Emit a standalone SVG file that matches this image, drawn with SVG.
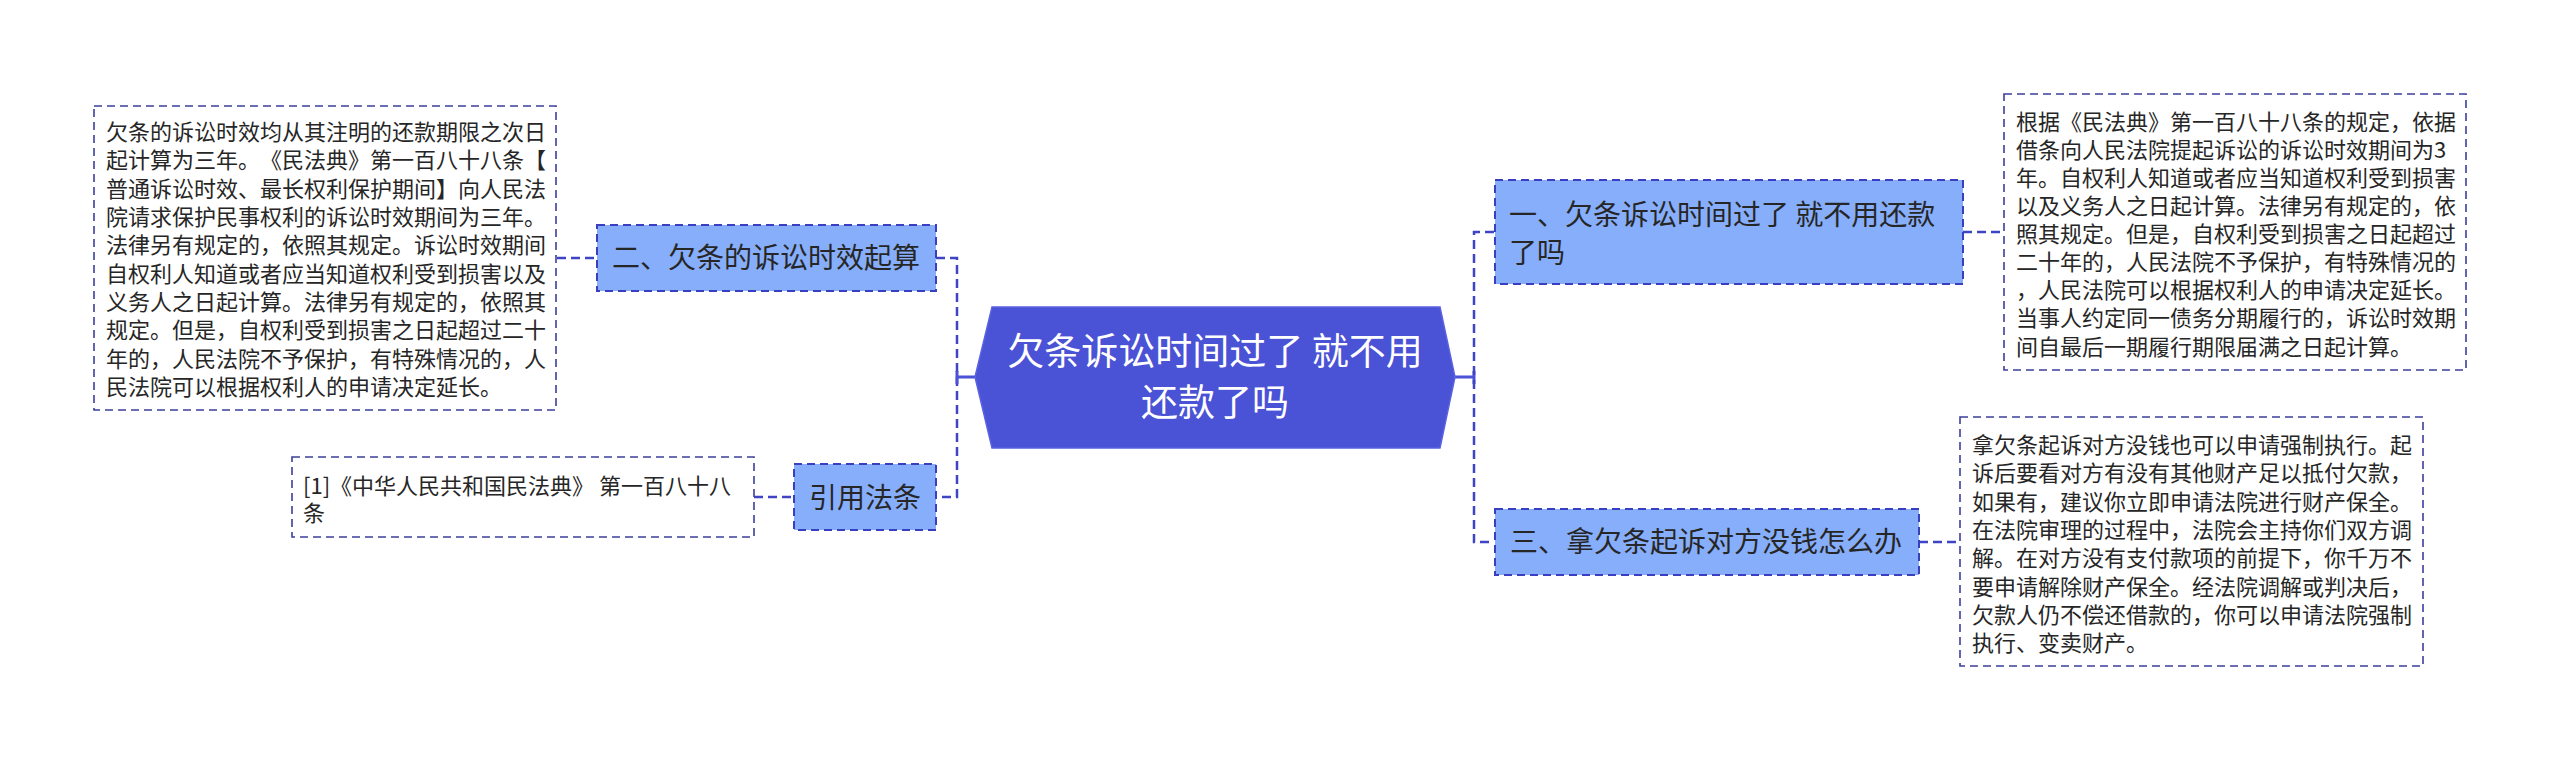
<svg xmlns="http://www.w3.org/2000/svg" width="2560" height="760" viewBox="0 0 2560 760">
<style>
.t{font-family:"Noto Sans CJK SC","Microsoft YaHei",sans-serif;fill:#262626;text-spacing-trim:space-all}
.s{font-size:22px}
.n{font-size:28px}
.node{fill:#87aefa;stroke:#3a3fc0;stroke-width:2;stroke-dasharray:8 5}
.box{fill:#ffffff;stroke:#3c3f9c;stroke-width:1.6;stroke-dasharray:8 5}
.dash{fill:none;stroke:#3e44c4;stroke-width:2.5;stroke-dasharray:9 5}
.solid{fill:none;stroke:#4a52d6;stroke-width:3}
</style>
<rect width="2560" height="760" fill="#ffffff"/>
<g id="connectors">
<path class="dash" d="M557,258 H597"/>
<path class="dash" d="M936,258 H957 V497 H937"/>
<path class="dash" d="M754,497 H794"/>
<path class="solid" d="M975,377 H957 M957,371 V384"/>
<path class="solid" d="M1455,377 H1474 M1474,371 V384"/>
<path class="dash" d="M1494,232 H1474 V542 H1494"/>
<path class="dash" d="M1963,232 H2004"/>
<path class="dash" d="M1919,542 H1960"/>
</g>
<g id="center">
<polygon points="975,377 992,307 1440,307 1455,377 1440,448 992,448" fill="#4a52d6" stroke="#5a62e0" stroke-width="1.5"/>
<text class="t" x="1215" y="365" font-size="37" text-anchor="middle" style="fill:#ffffff">欠条诉讼时间过了 就不用</text>
<text class="t" x="1215" y="416" font-size="37" text-anchor="middle" style="fill:#ffffff">还款了吗</text>
</g>
<g id="node-left-text">
<rect class="box" x="94" y="106" width="462" height="304"/>
<text class="t s" x="106" y="140">欠条的诉讼时效均从其注明的还款期限之次日</text>
<text class="t s" x="106" y="168.3">起计算为三年。《民法典》第一百八十八条【</text>
<text class="t s" x="106" y="196.7">普通诉讼时效、最长权利保护期间】向人民法</text>
<text class="t s" x="106" y="225">院请求保护民事权利的诉讼时效期间为三年。</text>
<text class="t s" x="106" y="253.3">法律另有规定的，依照其规定。诉讼时效期间</text>
<text class="t s" x="106" y="281.7">自权利人知道或者应当知道权利受到损害以及</text>
<text class="t s" x="106" y="310">义务人之日起计算。法律另有规定的，依照其</text>
<text class="t s" x="106" y="338.3">规定。但是，自权利受到损害之日起超过二十</text>
<text class="t s" x="106" y="366.7">年的，人民法院不予保护，有特殊情况的，人</text>
<text class="t s" x="106" y="395">民法院可以根据权利人的申请决定延长。</text>
</g>
<g id="node-two">
<rect class="node" x="597" y="225" width="339" height="66"/>
<text class="t n" x="612" y="268">二、欠条的诉讼时效起算</text>
</g>
<g id="node-citation-text">
<rect class="box" x="292" y="457" width="462" height="80"/>
<text class="t s" x="303" y="494">[1]《中华人民共和国民法典》 第一百八十八</text>
<text class="t s" x="303" y="521">条</text>
</g>
<g id="node-citation">
<rect class="node" x="794" y="464" width="142" height="66"/>
<text class="t n" x="865" y="508" text-anchor="middle">引用法条</text>
</g>
<g id="node-one">
<rect class="node" x="1495" y="180" width="468" height="104"/>
<text class="t n" x="1509" y="225">一、欠条诉讼时间过了 就不用还款</text>
<text class="t n" x="1509" y="263.3">了吗</text>
</g>
<g id="node-one-text">
<rect class="box" x="2004" y="94" width="462" height="276"/>
<text class="t s" x="2016" y="129.7">根据《民法典》第一百八十八条的规定，依据</text>
<text class="t s" x="2016" y="157.8">借条向人民法院提起诉讼的诉讼时效期间为3</text>
<text class="t s" x="2016" y="185.9">年。自权利人知道或者应当知道权利受到损害</text>
<text class="t s" x="2016" y="214">以及义务人之日起计算。法律另有规定的，依</text>
<text class="t s" x="2016" y="242.1">照其规定。但是，自权利受到损害之日起超过</text>
<text class="t s" x="2016" y="270.2">二十年的，人民法院不予保护，有特殊情况的</text>
<text class="t s" x="2016" y="298.3">，人民法院可以根据权利人的申请决定延长。</text>
<text class="t s" x="2016" y="326.4">当事人约定同一债务分期履行的，诉讼时效期</text>
<text class="t s" x="2016" y="354.5">间自最后一期履行期限届满之日起计算。</text>
</g>
<g id="node-three">
<rect class="node" x="1495" y="509" width="424" height="66"/>
<text class="t n" x="1510" y="552">三、拿欠条起诉对方没钱怎么办</text>
</g>
<g id="node-three-text">
<rect class="box" x="1960" y="417" width="463" height="249"/>
<text class="t s" x="1972" y="453">拿欠条起诉对方没钱也可以申请强制执行。起</text>
<text class="t s" x="1972" y="481.3">诉后要看对方有没有其他财产足以抵付欠款，</text>
<text class="t s" x="1972" y="509.6">如果有，建议你立即申请法院进行财产保全。</text>
<text class="t s" x="1972" y="537.9">在法院审理的过程中，法院会主持你们双方调</text>
<text class="t s" x="1972" y="566.2">解。在对方没有支付款项的前提下，你千万不</text>
<text class="t s" x="1972" y="594.5">要申请解除财产保全。经法院调解或判决后，</text>
<text class="t s" x="1972" y="622.8">欠款人仍不偿还借款的，你可以申请法院强制</text>
<text class="t s" x="1972" y="651.1">执行、变卖财产。</text>
</g>
</svg>
